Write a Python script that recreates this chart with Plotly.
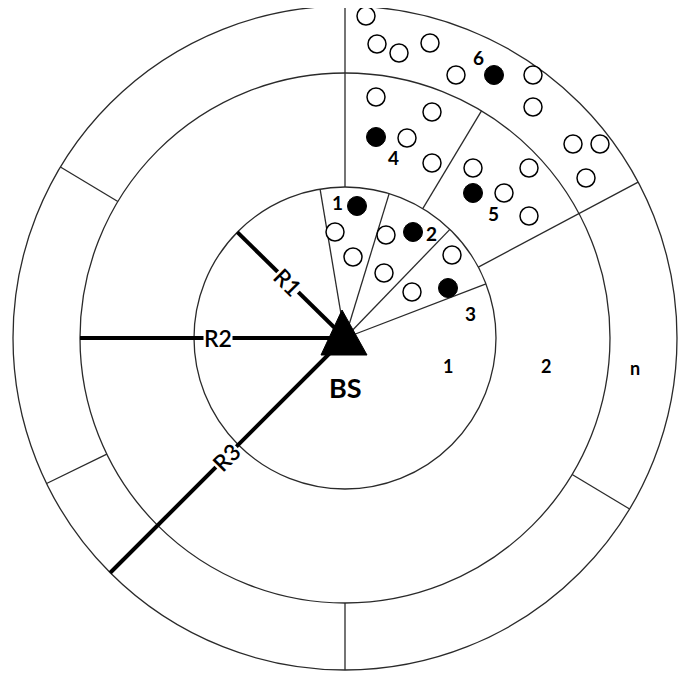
import numpy as np
import plotly.graph_objects as go

# ---- data (units ~ pixels, BS at origin, y up) ----
ring_radii = [151, 265, 332]                 # R1, R2, R3
inner_spokes = [99.5, 73, 46, 21]            # centre -> R1 (deg)
mid_spokes = [59]                            # R1 -> R2
long_spokes = [90, 28]                       # R1 -> R3
outer_spokes = [149, 206, 270, 329]          # R2 -> R3

radius_names = ["R1", "R2", "R3"]
radius_angles = [135.5, 180, 225]
radius_label_r = [80, 127, 168]
radius_label_angle = [45, 0, -45]

filled_x = [12, 68, 103, 31, 128, 149]
filled_y = [132, 106, 50, 201, 145, 263]
filled_names = ["1", "2", "3", "4", "5", "6"]
filled_lab_x = [-8, 86, 125, 48, 148, 133]
filled_lab_y = [136, 105, 25, 181, 125, 281]

open_x = [21, 32, 54, 85, 111, 188, 188, 31, 87, 62, 87, 128, 184, 159,
          228, 255, 241, 184, -10, 8, 41, 39, 107, 67]
open_y = [322, 294, 285, 295, 263, 263, 231, 241, 226, 200, 175, 170, 170, 145,
          194, 194, 160, 122, 106, 81, 103, 65, 83, 46]

ring_labels = ["1", "2", "n"]
ring_lab_x = [103, 201, 290]
ring_lab_y = [-28, -28, -30]

bs_label = "BS"
bs_x, bs_y = 0, 0
bs_lab_y = -49

# style
TRI_HALF_W, TRI_UP, TRI_DOWN, TRI_DX = 23, 28, 17, -1
FONT = "Lato, 'Open Sans', sans-serif"
LINE = "#2a2a2a"

fig = go.Figure()

# rings
for r in ring_radii:
    fig.add_shape(type="circle", xref="x", yref="y", x0=-r, y0=-r, x1=r, y1=r,
                  line=dict(color=LINE, width=1.3), layer="below")

# spokes
def seg(angles, r0, r1):
    xs, ys = [], []
    for a in angles:
        t = np.deg2rad(a)
        xs += [r0 * np.cos(t), r1 * np.cos(t), None]
        ys += [r0 * np.sin(t), r1 * np.sin(t), None]
    return xs, ys

sx, sy = [], []
for angs, a, b in [(inner_spokes, 0, ring_radii[0]),
                   (mid_spokes, ring_radii[0], ring_radii[1]),
                   (long_spokes, ring_radii[0], ring_radii[2]),
                   (outer_spokes, ring_radii[1], ring_radii[2])]:
    xs, ys = seg(angs, a, b)
    sx += xs
    sy += ys
fig.add_trace(go.Scatter(x=sx, y=sy, mode="lines",
                         line=dict(color=LINE, width=1.3), hoverinfo="skip"))

# thick radius lines
rx, ry = [], []
for ang, r in zip(radius_angles, ring_radii):
    xs, ys = seg([ang], 0, r)
    rx += xs
    ry += ys
fig.add_trace(go.Scatter(x=rx, y=ry, mode="lines",
                         line=dict(color="black", width=4), hoverinfo="skip"))

# open users
fig.add_trace(go.Scatter(x=open_x, y=open_y, mode="markers",
                         marker=dict(symbol="circle", size=18, color="white",
                                     line=dict(color="black", width=1.5)),
                         hoverinfo="skip"))
# selected users
fig.add_trace(go.Scatter(x=filled_x, y=filled_y, mode="markers",
                         marker=dict(symbol="circle", size=19, color="black",
                                     line=dict(color="black", width=1)),
                         hoverinfo="skip"))
# base station triangle around the BS location
tx = [bs_x + TRI_DX - TRI_HALF_W, bs_x + TRI_DX + TRI_HALF_W, bs_x + TRI_DX - 2, bs_x + TRI_DX - TRI_HALF_W]
ty = [bs_y - TRI_DOWN, bs_y - TRI_DOWN, bs_y + TRI_UP, bs_y - TRI_DOWN]
fig.add_trace(go.Scatter(x=tx, y=ty, mode="lines", fill="toself",
                         fillcolor="black", line=dict(color="black", width=1),
                         hoverinfo="skip"))

anns = []
for name, ang, rl, ta in zip(radius_names, radius_angles, radius_label_r, radius_label_angle):
    t = np.deg2rad(ang)
    anns.append(dict(x=rl * np.cos(t), y=rl * np.sin(t), text=name, showarrow=False,
                     textangle=ta, bgcolor="white", borderpad=0,
                     font=dict(family=FONT, size=23, color="black", weight=600)))
for n, x, y in zip(filled_names, filled_lab_x, filled_lab_y):
    anns.append(dict(x=x, y=y, text="<b>%s</b>" % n, showarrow=False,
                     font=dict(family=FONT, size=19, color="black")))
for n, x, y in zip(ring_labels, ring_lab_x, ring_lab_y):
    anns.append(dict(x=x, y=y, text="<b>%s</b>" % n, showarrow=False,
                     font=dict(family=FONT, size=18, color="black")))
anns.append(dict(x=bs_x, y=bs_lab_y, text="<b>%s</b>" % bs_label, showarrow=False,
                 font=dict(family=FONT, size=27, color="black")))

# page body has an 8px margin: size figure to the remaining viewport
fig.update_layout(
    width=688, height=669, autosize=False,
    margin=dict(l=0, r=0, t=0, b=0),
    paper_bgcolor="white", plot_bgcolor="white",
    showlegend=False,
    xaxis=dict(range=[-337, 351], visible=False, fixedrange=True),
    yaxis=dict(range=[-339, 330], visible=False, fixedrange=True),
    annotations=anns,
)

fig.write_html("out.html")
